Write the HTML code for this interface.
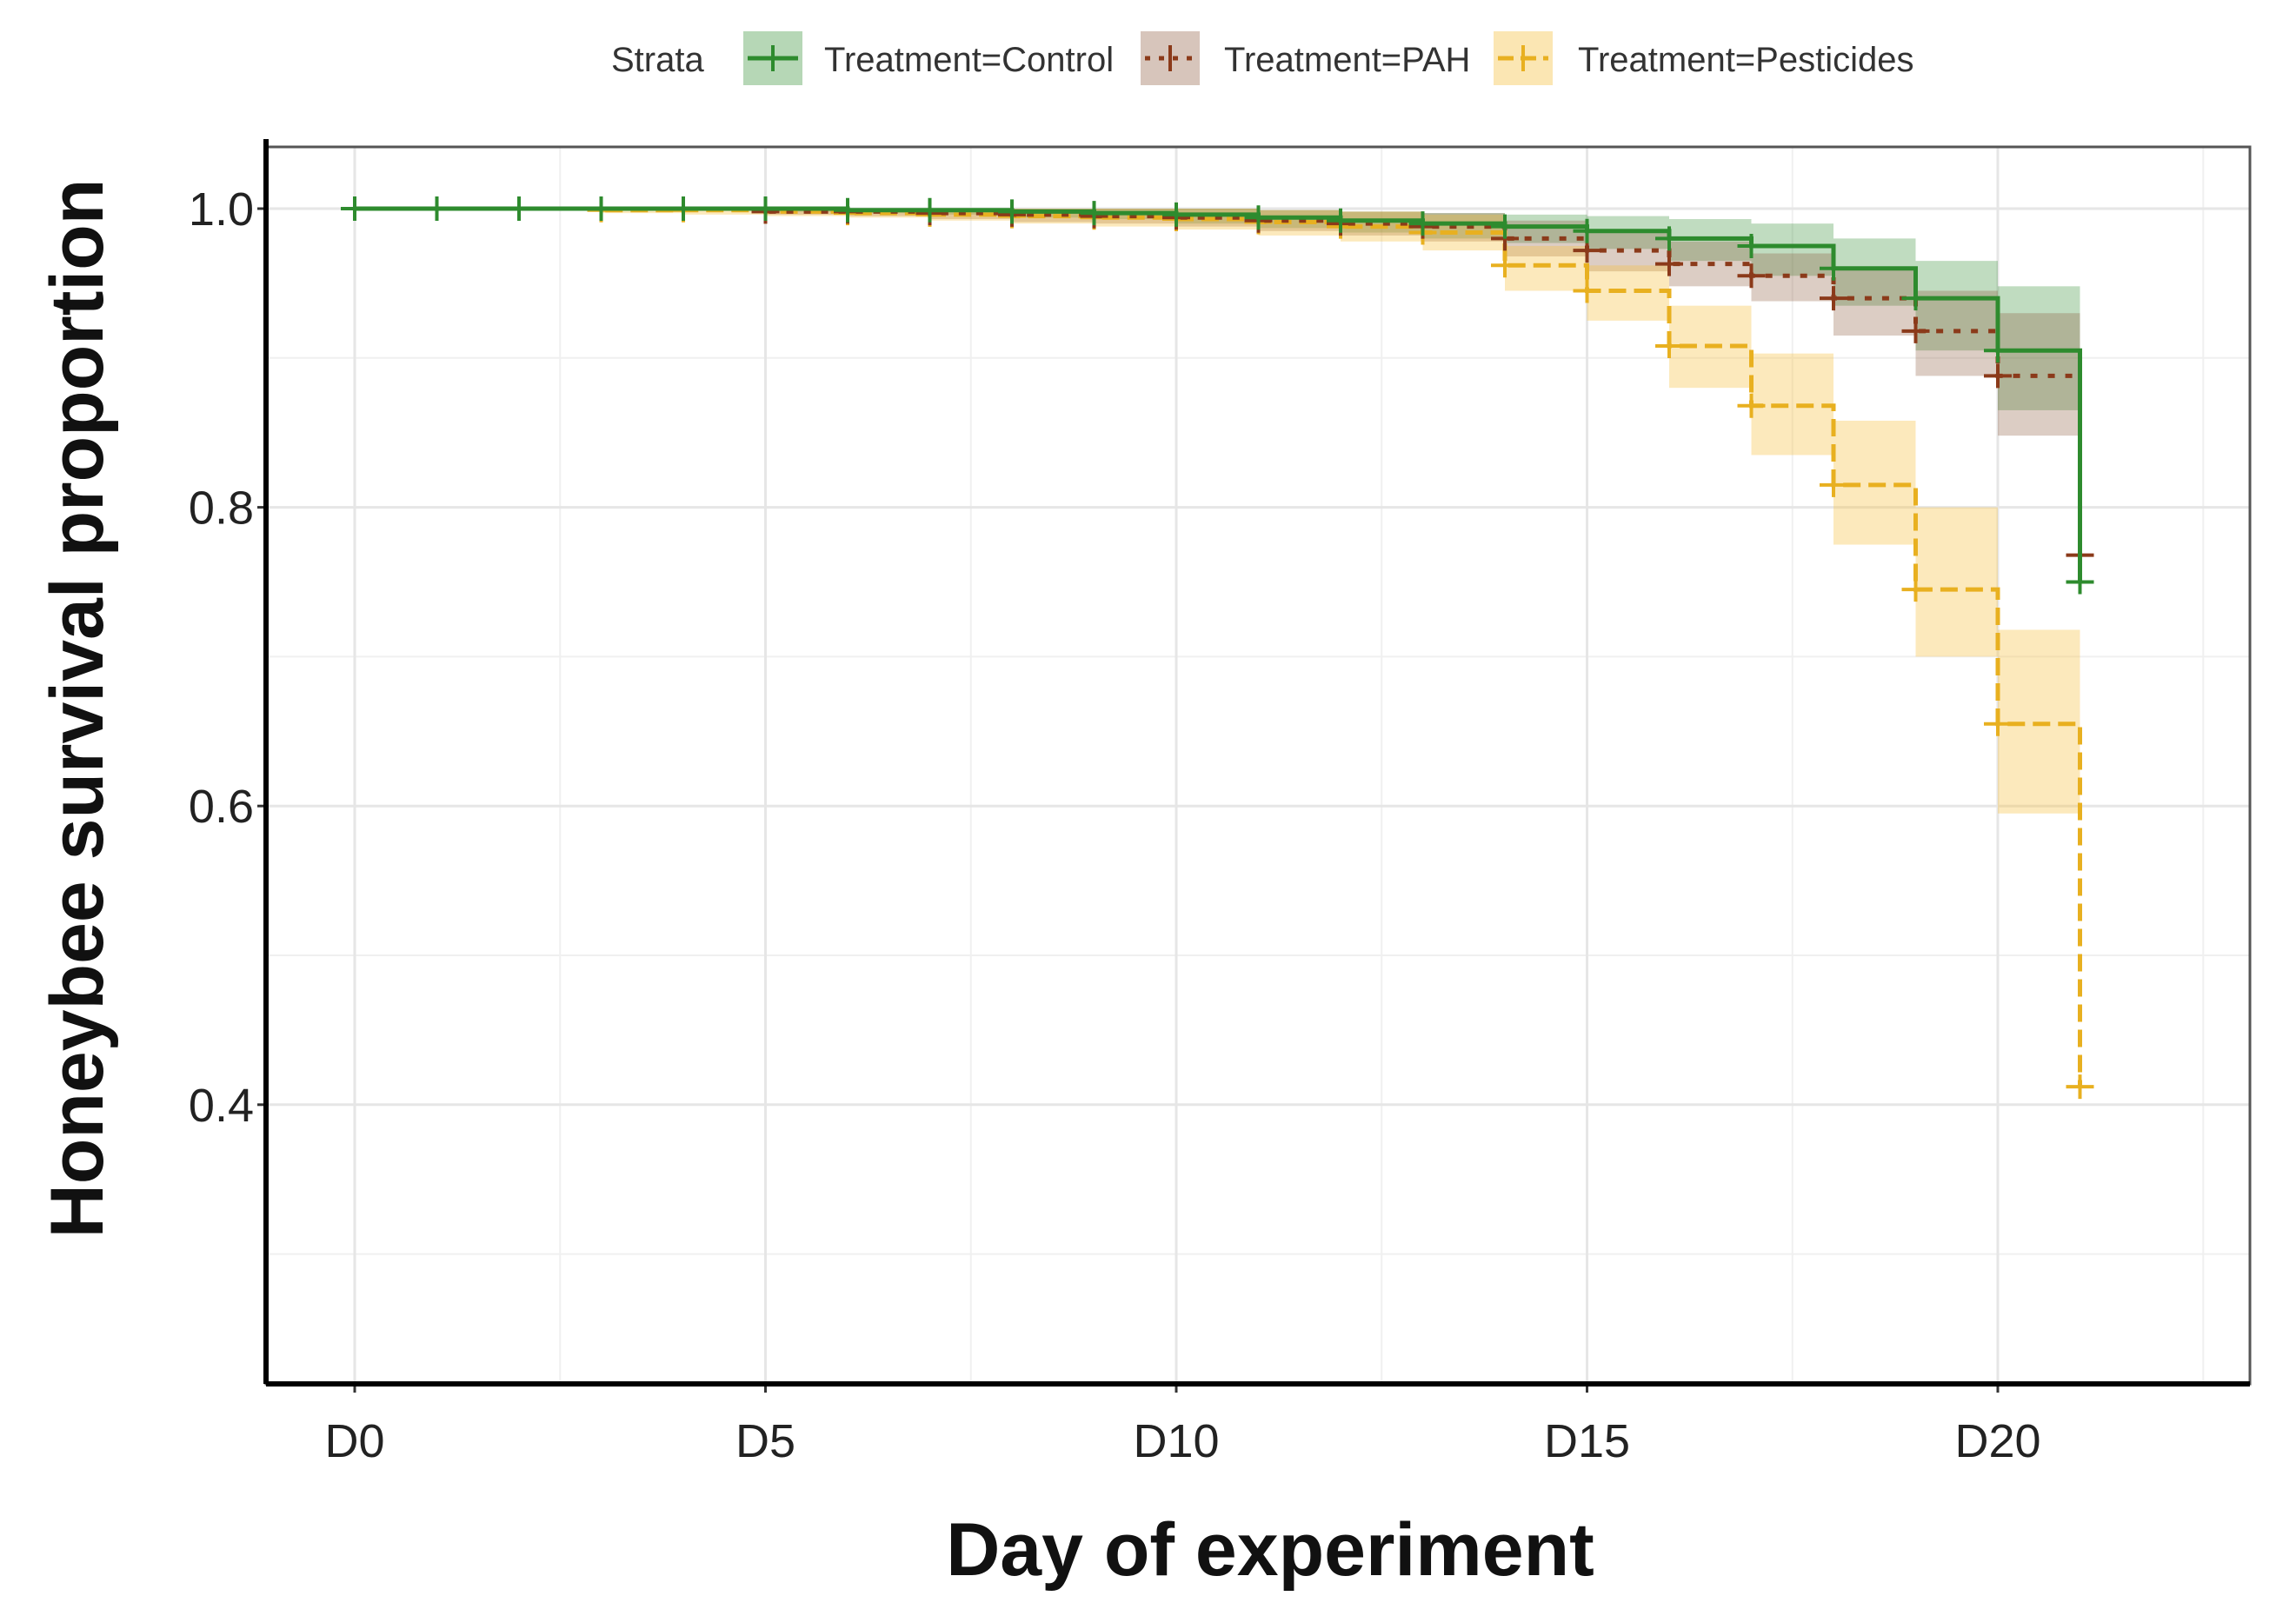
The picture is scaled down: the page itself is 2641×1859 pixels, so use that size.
<!DOCTYPE html>
<html><head><meta charset="utf-8"><style>
body{margin:0;background:#fff;}
svg{display:block;font-family:"Liberation Sans",sans-serif;}
</style></head><body>
<svg id="chart" width="2641" height="1859" viewBox="0 0 2641 1859" xmlns="http://www.w3.org/2000/svg">
<rect width="2641" height="1859" fill="#fff"/>
<g id="grid"></g>
<g id="bands"></g>
<g id="lines"></g>
<g id="axes"></g>
<g id="legend">
  <text x="703" y="82" font-size="40" fill="#333">Strata</text>
  <g>
    <rect x="855" y="36" width="68" height="62" fill="#2e8b2e" opacity="0.35"/>
    <line x1="860" y1="67" x2="918" y2="67" stroke="#2e8b2e" stroke-width="5"/>
    <line x1="889" y1="52" x2="889" y2="82" stroke="#2e8b2e" stroke-width="4"/>
    <text x="948" y="82" font-size="40" fill="#333">Treatment=Control</text>
  </g>
  <g>
    <rect x="1312" y="36" width="68" height="62" fill="#8b5a3c" opacity="0.35"/>
    <line x1="1317" y1="67" x2="1375" y2="67" stroke="#8b3a1a" stroke-width="5" stroke-dasharray="6,10"/>
    <line x1="1346" y1="52" x2="1346" y2="82" stroke="#8b3a1a" stroke-width="4"/>
    <text x="1408" y="82" font-size="40" fill="#333">Treatment=PAH</text>
  </g>
  <g>
    <rect x="1718" y="36" width="68" height="62" fill="#f5c040" opacity="0.4"/>
    <line x1="1723" y1="67" x2="1781" y2="67" stroke="#e8b020" stroke-width="5" stroke-dasharray="18,8"/>
    <line x1="1752" y1="52" x2="1752" y2="82" stroke="#e8b020" stroke-width="4"/>
    <text x="1815" y="82" font-size="40" fill="#333">Treatment=Pesticides</text>
  </g>
</g>
<text x="1461" y="1812" font-size="86" font-weight="bold" text-anchor="middle" fill="#111">Day of experiment</text>
<text transform="translate(118,815) rotate(-90)" font-size="86" font-weight="bold" text-anchor="middle" fill="#111">Honeybee survival proportion</text>
</svg>
<script>
// value for interval [day, day+1); final entry is day 21
const days = [0,1,2,3,4,5,6,7,8,9,10,11,12,13,14,15,16,17,18,19,20,21];
const controlSurv = [1,1,1,1,1,1,0.999,0.999,0.998,0.997,0.996,0.994,0.992,0.99,0.988,0.985,0.98,0.975,0.96,0.94,0.905,0.75];
const controlLow  = [1,1,1,1,1,0.998,0.997,0.996,0.994,0.993,0.99,0.987,0.984,0.98,0.977,0.973,0.965,0.955,0.935,0.905,0.865,0.75];
const controlHigh = [1,1,1,1,1,1,1,1,1,1,1,0.999,0.998,0.997,0.996,0.995,0.993,0.99,0.98,0.965,0.948,0.75];
const pahSurv = [1,1,1,1,1,0.998,0.998,0.997,0.996,0.995,0.994,0.992,0.99,0.988,0.98,0.972,0.963,0.955,0.94,0.918,0.888,0.768];
const pahLow  = [1,1,1,1,1,0.996,0.995,0.993,0.991,0.99,0.988,0.985,0.982,0.978,0.968,0.958,0.948,0.938,0.915,0.888,0.848,0.768];
const pahHigh = [1,1,1,1,1,1,1,1,1,1,1,0.999,0.998,0.997,0.992,0.985,0.978,0.97,0.96,0.945,0.93,0.768];
const pestSurv = [1,1,1,0.999,0.999,0.998,0.997,0.996,0.995,0.994,0.993,0.991,0.988,0.984,0.962,0.945,0.908,0.868,0.815,0.745,0.655,0.412];
const pestLow  = [1,1,1,0.997,0.996,0.995,0.994,0.992,0.99,0.988,0.986,0.982,0.978,0.972,0.945,0.925,0.88,0.835,0.775,0.70,0.595,0.412];
const pestHigh = [1,1,1,1,1,1,1,1,1,1,1,0.999,0.998,0.996,0.975,0.962,0.935,0.903,0.858,0.80,0.718,0.412];
const yTicks = [0.4,0.6,0.8,1.0];
const yMinor = [0.3,0.5,0.7,0.9];
const xTicks = [0,5,10,15,20];
const xTickLabels = ['D0','D5','D10','D15','D20'];
const xMinor = [2.5,7.5,12.5,17.5,22.5];

const NS='http://www.w3.org/2000/svg';
const L=306,R=2588,T=169,B=1592;
const xs=d=>408+d*94.5;
const ys=v=>240+(1-v)*1718;
function mk(tag,attrs,parent){const e=document.createElementNS(NS,tag);for(const k in attrs)e.setAttribute(k,attrs[k]);parent.appendChild(e);return e;}
const grid=document.getElementById('grid'),bands=document.getElementById('bands'),lines=document.getElementById('lines'),axes=document.getElementById('axes');
yMinor.forEach(v=>{const e=mk('line',{x1:L,x2:R,y1:ys(v),y2:ys(v),stroke:'#f0f0f0','stroke-width':2},grid);

});
xMinor.forEach(v=>{const e=mk('line',{x1:xs(v),x2:xs(v),y1:T,y2:B,stroke:'#f0f0f0','stroke-width':2},grid);

});
yTicks.forEach(v=>{const e=mk('line',{x1:L,x2:R,y1:ys(v),y2:ys(v),stroke:'#e6e6e6','stroke-width':3},grid);


const t=mk('text',{x:292,y:ys(v)+19,'font-size':54,'text-anchor':'end',fill:'#222'},axes);t.textContent=v.toFixed(1);


mk('line',{x1:296,x2:L,y1:ys(v),y2:ys(v),stroke:'#333','stroke-width':3},axes);});
xTicks.forEach((v,i)=>{const e=mk('line',{x1:xs(v),x2:xs(v),y1:T,y2:B,stroke:'#e6e6e6','stroke-width':3},grid);


mk('line',{x1:xs(v),x2:xs(v),y1:B,y2:B+10,stroke:'#333','stroke-width':3},axes);
const t=mk('text',{x:xs(v),y:1676,'font-size':54,'text-anchor':'middle',fill:'#222'},axes);t.textContent=xTickLabels[i];

});
const fr=mk('rect',{x:L,y:T,width:R-L,height:B-T,fill:'none',stroke:'#555','stroke-width':3},axes);


mk('line',{x1:L,x2:L,y1:160,y2:B,stroke:'#000','stroke-width':6},axes);
mk('line',{x1:L,x2:R,y1:B,y2:B,stroke:'#000','stroke-width':6},axes);

const series=[
 {name:'control',s:controlSurv,lo:controlLow,hi:controlHigh,col:'#2e8b2e',fill:'#2e8b2e',op:0.3,dash:'none'},
 {name:'pah',s:pahSurv,lo:pahLow,hi:pahHigh,col:'#8b3a1a',fill:'#8b5a3c',op:0.3,dash:'8,12'},
 {name:'pesticides',s:pestSurv,lo:pestLow,hi:pestHigh,col:'#e8b020',fill:'#f5c040',op:0.35,dash:'20,9'}];
series.forEach(sr=>{
 for(let i=0;i<days.length-1;i++){
  const r=mk('rect',{x:xs(days[i]),y:ys(sr.hi[i]),width:xs(days[i+1])-xs(days[i]),height:Math.max(0,ys(sr.lo[i])-ys(sr.hi[i])),fill:sr.fill,opacity:sr.op},bands);
  
  
 }
});
series.slice().reverse().forEach(sr=>{
 let d='M'+xs(days[0])+','+ys(sr.s[0]);
 for(let i=1;i<days.length;i++){d+=' H'+xs(days[i])+' V'+ys(sr.s[i]);}
 const p=mk('path',{d:d,fill:'none',stroke:sr.col,'stroke-width':5,'stroke-dasharray':sr.dash},lines);
 
 
 for(let i=0;i<days.length;i++){
  const x=xs(days[i]),y=ys(sr.s[i]);
  const g=mk('path',{d:`M${x-16},${y} H${x+16} M${x},${y-14} V${y+14}`,stroke:sr.col,'stroke-width':4,fill:'none'},lines);
  
  
 }
});
</script>
</body></html>
